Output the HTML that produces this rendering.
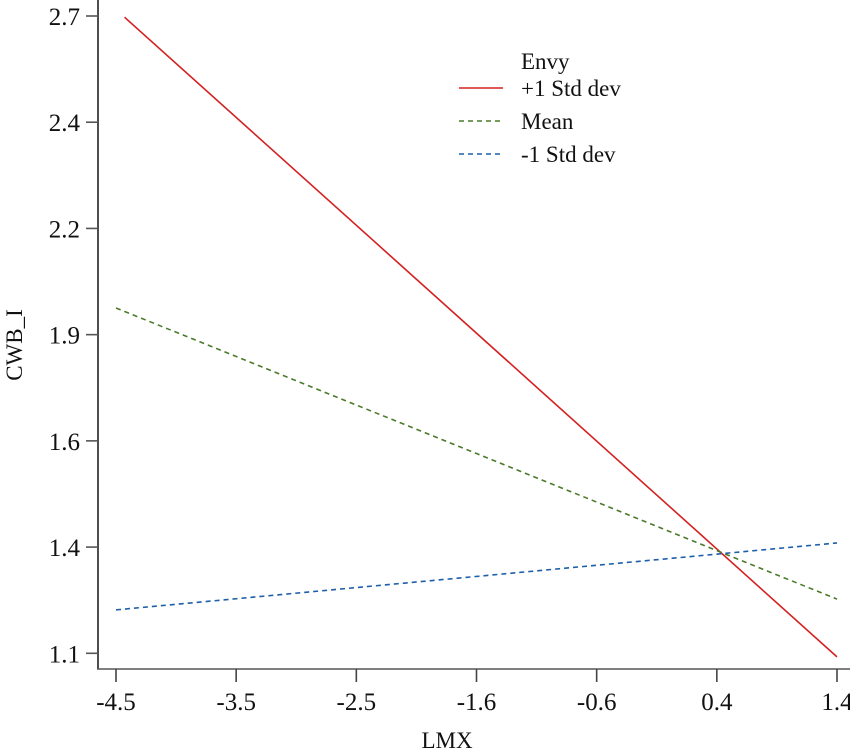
<!DOCTYPE html>
<html><head><meta charset="utf-8"><style>
html,body{margin:0;padding:0;background:#fff;}
svg{display:block;font-family:"Liberation Serif",serif;}
</style></head><body>
<svg id="chart" width="850" height="751" viewBox="0 0 850 751">
<g id="axes"></g>
<g id="series"></g>
<g id="legend">
  <text x="521" y="69" font-size="23" fill="#111">Envy</text>
  <line x1="459" y1="88" x2="503" y2="88" stroke="#d42020" stroke-width="1.6"/>
  <text x="521" y="96" font-size="23" fill="#111">+1 Std dev</text>
  <line x1="459" y1="121" x2="503" y2="121" stroke="#4a7a2a" stroke-width="1.6" stroke-dasharray="5,4"/>
  <text x="521" y="129" font-size="23" fill="#111">Mean</text>
  <line x1="459" y1="154" x2="503" y2="154" stroke="#1d5fa8" stroke-width="1.6" stroke-dasharray="5,4"/>
  <text x="521" y="162" font-size="23" fill="#111">-1 Std dev</text>
</g>
<text x="447" y="748" font-size="23" text-anchor="middle" fill="#111">LMX</text>
<text transform="translate(22,345) rotate(-90)" font-size="23" text-anchor="middle" fill="#111">CWB_I</text>
</svg>
<script>
const xTickLabels = ["-4.5","-3.5","-2.5","-1.6","-0.6","0.4","1.4"];
const yTickLabels = ["1.1","1.4","1.6","1.9","2.2","2.4","2.7"];
const seriesNames = ["plus1sd","mean","minus1sd"];
const plusX = [-4.43, 1.4];
const plusY = [2.697, 1.091];
const meanX = [-4.5, 1.4];
const meanY = [1.967, 1.236];
const minusX = [-4.5, 1.4];
const minusY = [1.209, 1.377];

const X0=-4.5, X1=1.4, Y0=1.1, Y1=2.7;
function xs(v){return 116+(v-X0)/(X1-X0)*721;}
function ys(v){return 653.3-(v-Y0)/(Y1-Y0)*637.3;}
const NS="http://www.w3.org/2000/svg";
function mk(tag,attrs,parent){const e=document.createElementNS(NS,tag);for(const k in attrs)e.setAttribute(k,attrs[k]);parent.appendChild(e);return e;}
const axes=document.getElementById('axes');
let e=mk('line',{x1:98,y1:0,x2:98,y2:669,stroke:'#222','stroke-width':1.6},axes);


e=mk('line',{x1:97,y1:669,x2:850,y2:669,stroke:'#555','stroke-width':1.6},axes);


yTickLabels.forEach((t,i)=>{
  const y=653.3-i*637.3/(yTickLabels.length-1);
  const l=mk('line',{x1:86,y1:y,x2:98,y2:y,stroke:'#555','stroke-width':1.6},axes);
  
  
  const tx=mk('text',{x:80,y:y+9,'font-size':25,'text-anchor':'end',fill:'#111'},axes);
  tx.textContent=t;
  
  
});
xTickLabels.forEach((t,i)=>{
  const x=116+i*721/(xTickLabels.length-1);
  const l=mk('line',{x1:x,y1:669,x2:x,y2:682,stroke:'#444','stroke-width':1.6},axes);
  
  
  const tx=mk('text',{x:x,y:710,'font-size':25,'text-anchor':'middle',fill:'#111'},axes);
  tx.textContent=t;
  
  
});
const ser=document.getElementById('series');
const defs=[[plusX,plusY,'#d42020',null],[meanX,meanY,'#4a7a2a','5,4'],[minusX,minusY,'#1d5fa8','5,4']];
defs.forEach((d,i)=>{
  const pts=d[0].map((x,j)=>xs(x)+','+ys(d[1][j])).join(' ');
  const a={points:pts,fill:'none',stroke:d[2],'stroke-width':1.6};
  if(d[3])a['stroke-dasharray']=d[3];
  const p=mk('polyline',a,ser);
  
  
});
</script>
</body></html>
